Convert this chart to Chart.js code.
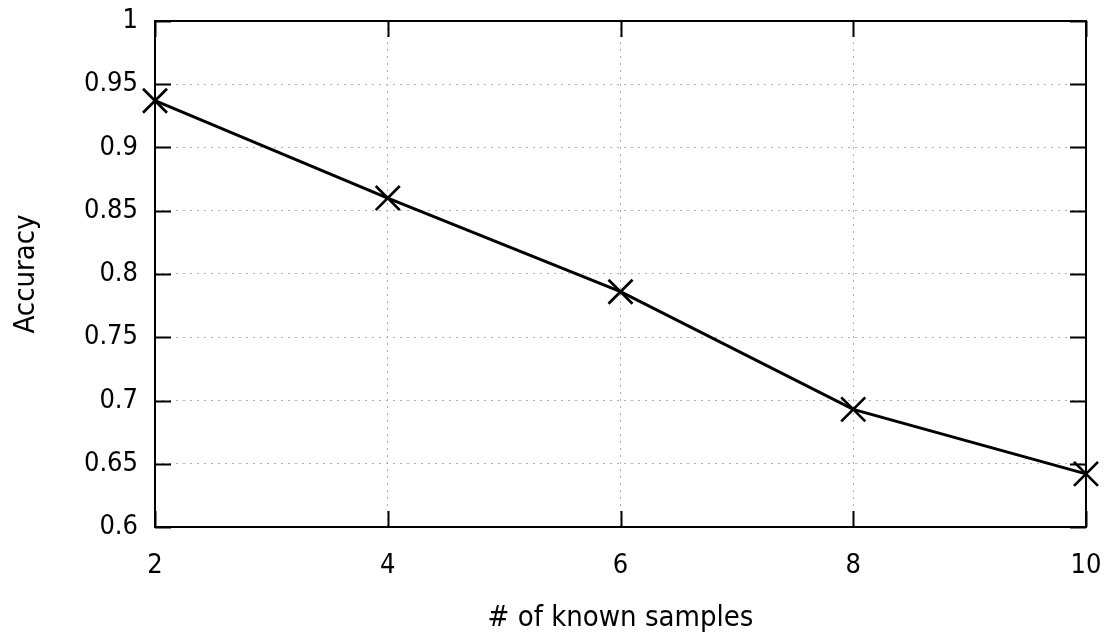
<!DOCTYPE html>
<html>
<head>
<meta charset="utf-8">
<script src="https://cdn.jsdelivr.net/npm/chart.js@4/dist/chart.umd.min.js"></script>
<style>
html,body{margin:0;padding:0;background:#fff;}
#wrap{width:1118px;height:641px;}
</style>
</head>
<body>
<div id="wrap"><canvas id="c" width="1118" height="641"></canvas></div>
<script>
const knownSamples = [2, 4, 6, 8, 10];
const accuracy = [0.937, 0.860, 0.786, 0.693, 0.642];
const xTickValues = [2, 4, 6, 8, 10];
const yTickValues = [0.6, 0.65, 0.7, 0.75, 0.8, 0.85, 0.9, 0.95, 1];
const yTickLabels = ['0.6', '0.65', '0.7', '0.75', '0.8', '0.85', '0.9', '0.95', '1'];
const xTitle = '# of known samples';
const yTitle = 'Accuracy';

const FONT = '"DejaVu Sans Condensed", "DejaVu Sans", sans-serif';
const FS = 27;
const TFS = 29;

const frame = {
  id: 'frame',
  afterDatasetsDraw(chart) {
    const {ctx, chartArea: a, scales: {x, y}} = chart;
    ctx.save();
    ctx.strokeStyle = '#000';
    ctx.lineWidth = 2;
    ctx.setLineDash([]);
    const L = 16;
    ctx.beginPath();
    xTickValues.forEach(v => {
      const px = Math.round(x.getPixelForValue(v)) + 0.5;
      ctx.moveTo(px, a.bottom); ctx.lineTo(px, a.bottom - L);
      ctx.moveTo(px, a.top); ctx.lineTo(px, a.top + L);
    });
    yTickValues.forEach(v => {
      const py = Math.round(y.getPixelForValue(v)) + 0.5;
      ctx.moveTo(a.left, py); ctx.lineTo(a.left + L, py);
      ctx.moveTo(a.right, py); ctx.lineTo(a.right - L, py);
    });
    ctx.stroke();
    ctx.strokeRect(a.left, a.top, a.right - a.left, a.bottom - a.top);
    ctx.restore();
  }
};

new Chart(document.getElementById('c'), {
  type: 'line',
  data: {
    datasets: [{
      data: knownSamples.map((k, i) => ({x: k, y: accuracy[i]})),
      borderColor: '#000',
      backgroundColor: '#000',
      borderWidth: 3,
      pointStyle: 'crossRot',
      pointRadius: 17,
      pointBorderWidth: 2.7,
      pointBorderColor: '#000',
      tension: 0,
      fill: false,
      clip: false
    }]
  },
  options: {
    responsive: false,
    animation: false,
    events: [],
    layout: {padding: {top: 21, right: 32, left: 0, bottom: 0}},
    plugins: {legend: {display: false}, tooltip: {enabled: false}},
    scales: {
      x: {
        type: 'linear',
        min: 2, max: 10,
        afterBuildTicks: s => { s.ticks = xTickValues.map(v => ({value: v})); },
        afterFit: s => { s.height = 114; s.paddingLeft = 0; s.paddingRight = 0; },
        grid: {color: '#b0b0b0', lineWidth: 1, drawTicks: false},
        border: {display: false, dash: [2, 5]},
        ticks: {color: '#000', padding: 23, font: {family: FONT, size: FS}, maxRotation: 0,
                callback: v => String(v)},
        title: {display: true, text: xTitle, color: '#000', font: {family: FONT, size: TFS},
                padding: {top: 0, bottom: 5}}
      },
      y: {
        type: 'linear',
        min: 0.6, max: 1,
        afterBuildTicks: s => { s.ticks = yTickValues.map(v => ({value: v})); },
        afterFit: s => { s.width = 155; s.paddingTop = 0; s.paddingBottom = 0; },
        grid: {color: '#b0b0b0', lineWidth: 1, drawTicks: false},
        border: {display: false, dash: [2, 5]},
        ticks: {color: '#000', padding: 17, font: {family: FONT, size: FS},
                callback: (v) => { const i = yTickValues.findIndex(t => Math.abs(t - v) < 1e-9); return i >= 0 ? yTickLabels[i] : ''; }},
        title: {display: true, text: yTitle, color: '#000', font: {family: FONT, size: TFS},
                padding: {top: 9, bottom: 0}}
      }
    }
  },
  plugins: [frame]
});
</script>
</body>
</html>
